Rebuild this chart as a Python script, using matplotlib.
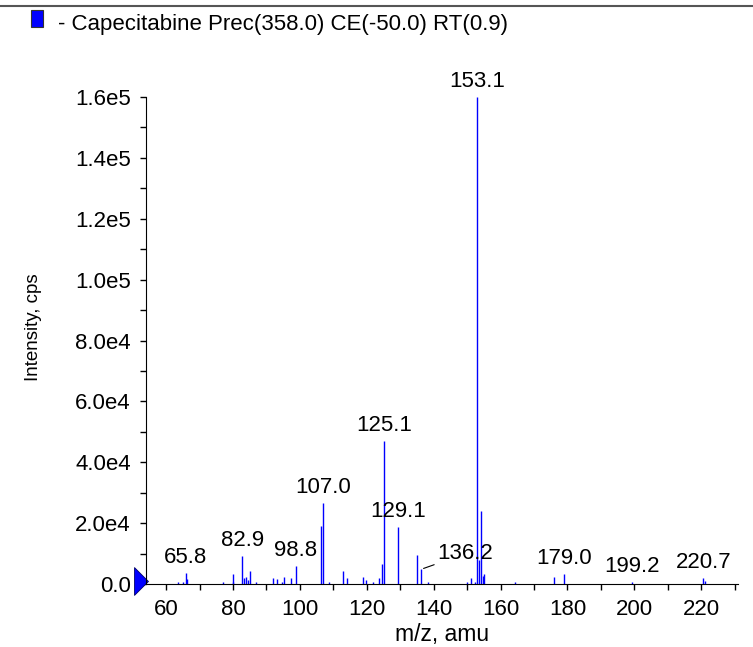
import matplotlib.pyplot as plt
from matplotlib.lines import Line2D
from matplotlib.patches import Rectangle
from matplotlib.path import Path
from matplotlib.ticker import MultipleLocator, FuncFormatter
import matplotlib.transforms as mtransforms

plt.rcParams['font.family'] = ['Liberation Sans', 'DejaVu Sans']

# peak list (m/z, intensity in cps)
mz = [63.6, 64.9, 65.8, 66.2, 76.9, 80.0, 80.1, 82.8, 83.4, 83.8, 84.6, 85.1, 86.9,
      92.1, 93.1, 94.5, 95.1, 97.2, 98.8, 106.2, 107.0, 108.8, 113.0, 114.0,
      119.0, 119.8, 121.8, 123.8, 124.5, 125.1, 129.3, 135.0, 136.2, 138.3,
      149.9, 151.1, 152.3, 153.1, 153.7, 154.2, 154.7, 155.2, 164.3,
      176.1, 179.1, 199.2, 220.7, 221.2]
intensity = [500, 800, 3500, 1800, 500, 700, 3300, 9200, 2100, 2400, 1300, 4300, 600,
             1900, 1500, 500, 2200, 1900, 5900, 19200, 26500, 600, 4300, 2100,
             2400, 1200, 600, 2100, 6600, 47100, 18800, 9500, 4800, 500,
             500, 2100, 500, 160000, 7900, 24100, 2700, 3300, 500,
             2400, 3300, 500, 2100, 1000]

label_text = ["65.8", "82.9", "98.8", "107.0", "125.1", "129.1", "153.1", "179.0", "199.2", "220.7"]
label_mz = [65.8, 82.8, 98.8, 107.0, 125.1, 129.3, 153.1, 179.1, 199.2, 220.7]
label_int = [3500, 9200, 5900, 26500, 47100, 18800, 160000, 3300, 500, 2100]

legend_text = "- Capecitabine Prec(358.0) CE(-50.0) RT(0.9)"

fig = plt.figure(figsize=(7.53, 6.47), dpi=100)
ax = fig.add_axes([0.194, 0.0974, 0.786, 0.7526])

ax.vlines(mz, 0, intensity, color='blue', lw=1)

for t, x, y in zip(label_text, label_mz, label_int):
    ax.annotate(t, (x, y), xytext=(0, 5), textcoords='offset pixels',
                ha='center', va='bottom', fontsize=16)

# 136.2 has a leader line
ax.annotate("136.2", (136.2, 4800), xytext=(16, 5), textcoords='offset pixels',
            ha='left', va='bottom', fontsize=16,
            arrowprops=dict(arrowstyle='-', color='black', lw=0.8, shrinkA=0, shrinkB=2))

ax.set_xlim(54, 231)
ax.set_ylim(0, 1.6e5)
ax.xaxis.set_major_locator(MultipleLocator(20))
ax.xaxis.set_minor_locator(MultipleLocator(10))
ax.yaxis.set_major_locator(MultipleLocator(2e4))
ax.yaxis.set_minor_locator(MultipleLocator(1e4))


def sci(v, pos):
    if v == 0:
        return "0.0"
    e = len(str(int(v))) - 1
    return "{0:.1f}e{1}".format(v / 10 ** e, e)


ax.yaxis.set_major_formatter(FuncFormatter(sci))
ax.tick_params(which='both', direction='out', length=4, width=1, labelsize=16, pad=7)
ax.spines['top'].set_visible(False)
ax.spines['right'].set_visible(False)

ax.set_xlabel("m/z, amu", fontsize=16.5)
ax.xaxis.set_label_coords(0.5, -0.080)
ax.set_ylabel("Intensity, cps", fontsize=13.5)
ax.yaxis.set_label_coords(-0.176, 0.528)

# baseline marker on the y axis
tri = Path([(-0.25, -0.5), (0.25, 0.0), (-0.25, 0.5), (-0.25, -0.5)],
           [Path.MOVETO, Path.LINETO, Path.LINETO, Path.CLOSEPOLY])
off = mtransforms.offset_copy(ax.transData, fig=fig, x=-5, y=3, units='dots')
ax.plot([54], [0], marker=tri, ms=20, mfc='blue', mec='#000066', mew=0.6,
        transform=off, clip_on=False)

# header strip
fig.add_artist(Line2D([0, 1], [1 - 5.5 / 647, 1 - 5.5 / 647], transform=fig.transFigure,
                      color='#555555', lw=1.5))
fig.add_artist(Rectangle((31 / 753, 1 - 27 / 647), 12 / 753, 17 / 647, transform=fig.transFigure,
                         facecolor='blue', edgecolor='#333333', lw=0.8))
fig.text(58 / 753, 1 - 30 / 647, legend_text, fontsize=16, va='baseline', ha='left')

fig.savefig("out.png", dpi=100)
